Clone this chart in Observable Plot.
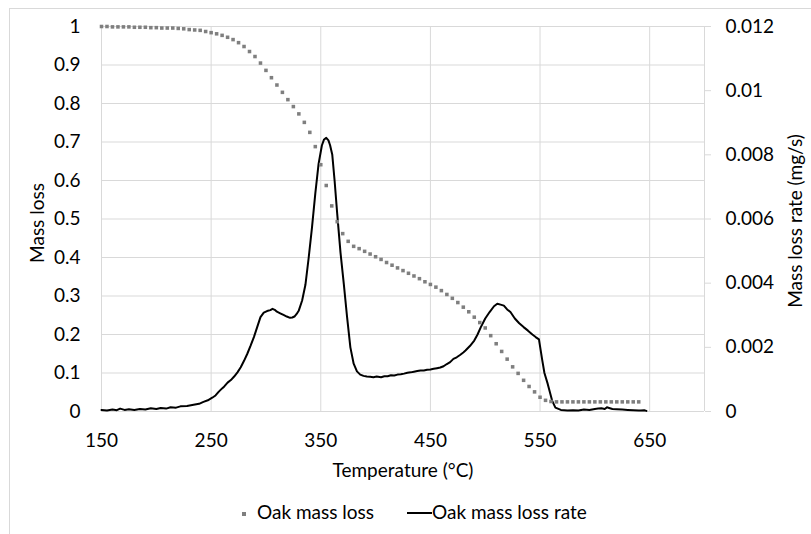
<!DOCTYPE html>
<html><head><meta charset="utf-8">
<script src="https://cdn.jsdelivr.net/npm/d3@7"></script>
<script src="https://cdn.jsdelivr.net/npm/@observablehq/plot@0.6"></script>
<style>
body{margin:0;background:#fff;font-family:Lato,"Open Sans",sans-serif;color:#000;}
#frame{position:absolute;left:9px;top:8px;width:900px;height:600px;border-top:1px solid #d9d9d9;border-left:1px solid #d9d9d9;}
#chart{position:absolute;left:0;top:0;}
.lg{position:absolute;top:502px;font-size:19px;line-height:20px;white-space:nowrap;}
</style></head>
<body>
<div id="frame"></div>
<div id="chart"></div>
<div class="lg" style="left:242px;top:512px;width:4px;height:4px;background:#7f7f7f;"></div>
<div class="lg" style="left:257px;">Oak mass loss</div>
<div class="lg" style="left:407px;top:512px;width:25px;height:2px;background:#000;"></div>
<div class="lg" style="left:432px;">Oak mass loss rate</div>
<script>
const massTemp = [150,155,160,165,170,175,180,185,190,195,200,205,210,215,220,225,230,235,240,245,250,255,260,265,270,275,280,285,290,295,300,305,310,315,320,325,330,335,340,345,350,355,360,365,370,375,380,385,390,395,400,405,410,415,420,425,430,435,440,445,450,455,460,465,470,475,480,485,490,495,500,505,510,515,520,525,530,535,540,545,550,555,560,565,570,575,580,585,590,595,600,605,610,615,620,625,630,635,640];
const massLoss = [1.000,1.000,0.999,0.999,0.999,0.999,0.998,0.998,0.998,0.997,0.997,0.996,0.996,0.996,0.995,0.994,0.992,0.991,0.990,0.987,0.984,0.981,0.977,0.972,0.966,0.958,0.948,0.935,0.922,0.905,0.886,0.867,0.848,0.829,0.810,0.792,0.773,0.751,0.725,0.688,0.641,0.587,0.534,0.493,0.462,0.442,0.429,0.423,0.416,0.409,0.402,0.395,0.387,0.380,0.373,0.366,0.359,0.352,0.345,0.337,0.330,0.323,0.314,0.304,0.294,0.283,0.271,0.259,0.245,0.231,0.217,0.197,0.176,0.156,0.136,0.116,0.099,0.081,0.065,0.051,0.037,0.029,0.026,0.025,0.025,0.025,0.025,0.025,0.025,0.025,0.025,0.025,0.025,0.025,0.025,0.025,0.025,0.025,0.025];

const rateTemp = [150,155,160,164,167,171,175,180,185,190,195,200,204,209,213,218,222,228,234,239,243,247,251,254,257,260,262,265,268,271,274,277,280,283,286,289,292,295,298,301,304,306,308,310,313,316,319,322,324,326,328,330,333,336,339,342,345,348,351,353,355,357,358.5,360.5,362.6,365,368,371,374,377,380,383,386,389,392,395,398,401,405,408,411,414,417,420,423,426,429,432,435,438,441,444,447,450,453,456,459,462,465,468,471,474,477,480,482,486,490,493,496,500,504,508,511,514,517,520,523,527,531,535,539,543,546,549,552,554,557,561,564,569,575,580,585,590,595,600,603,606,609,611,613,616,620,625,630,635,640,642,645,647];
const rateValue = [0.00005,0.00003,0.00006,0.00004,0.00009,0.00005,0.00007,0.00005,0.00008,0.00006,0.00010,0.00008,0.00011,0.00009,0.00013,0.00012,0.00016,0.00017,0.00021,0.00024,0.00030,0.00035,0.00043,0.00050,0.00062,0.00072,0.00078,0.00090,0.00098,0.00109,0.00122,0.00138,0.00158,0.00180,0.00205,0.00232,0.00263,0.00294,0.00308,0.00313,0.00316,0.00320,0.00317,0.00311,0.00306,0.00301,0.00296,0.00292,0.00293,0.00296,0.00304,0.00315,0.00346,0.00395,0.00480,0.00574,0.00679,0.00772,0.00829,0.00848,0.00853,0.00845,0.00830,0.00800,0.00720,0.00616,0.00495,0.00398,0.00294,0.00200,0.00149,0.00125,0.00115,0.00111,0.00109,0.00108,0.00107,0.00109,0.00107,0.00110,0.00110,0.00113,0.00112,0.00115,0.00116,0.00118,0.00121,0.00122,0.00124,0.00126,0.00128,0.00128,0.00130,0.00131,0.00133,0.00135,0.00137,0.00141,0.00148,0.00154,0.00164,0.00169,0.00176,0.00184,0.00190,0.00204,0.00221,0.00240,0.00263,0.00290,0.00310,0.00328,0.00336,0.00333,0.00330,0.00318,0.00310,0.00290,0.00275,0.00263,0.00252,0.00240,0.00232,0.00225,0.00160,0.00120,0.00086,0.00034,0.00012,0.00005,0.00003,0.00004,0.00003,0.00006,0.00005,0.00008,0.00009,0.00010,0.00008,0.00013,0.00011,0.00008,0.00007,0.00006,0.00005,0.00004,0.00003,0.00003,0.00004,0.00002];

const xTicks = [150,250,350,450,550,650];
const yTicks = [0,0.1,0.2,0.3,0.4,0.5,0.6,0.7,0.8,0.9,1];
const rateTicks = [0,0.002,0.004,0.006,0.008,0.01,0.012];
const rateMax = 0.012;

const mass = massTemp.map((t,i)=>({t, v:massLoss[i]}));
const rate = rateTemp.map((t,i)=>({t, r:rateValue[i]}));

const chart = Plot.plot({
  width: 811, height: 490,
  marginTop: 26, marginLeft: 101, marginRight: 107, marginBottom: 79,
  style: {fontFamily: "Lato, 'Open Sans', sans-serif", fontSize: "19px", color: "#000", background: "transparent", overflow: "visible"},
  x: {domain: [150, 700]},
  y: {domain: [0, 1]},
  marks: [
    Plot.gridY(yTicks, {stroke: "#d9d9d9", strokeOpacity: 1}),
    Plot.gridX(xTicks, {stroke: "#d9d9d9", strokeOpacity: 1}),
    Plot.ruleX([700], {stroke: "#d9d9d9"}),
    Plot.axisX(xTicks, {tickSize: 0, tickPadding: 22, label: null, fill: "#000"}),
    Plot.axisY(yTicks, {anchor: "left", tickSize: 0, tickPadding: 21, label: null, fill: "#000", tickFormat: d => String(d)}),
    Plot.axisY(rateTicks.map(r => r / rateMax), {anchor: "right", tickSize: 6, tickPadding: 15, label: null, stroke: "#d9d9d9", fill: "#000", tickFormat: d => String(+(d * rateMax).toFixed(3))}),
    Plot.line(rate, {x: "t", y: d => d.r / rateMax, stroke: "#000", strokeWidth: 2}),
    Plot.dot(mass, {x: "t", y: "v", symbol: "square", r: 2, fill: "#7f7f7f", stroke: "none"}),
    Plot.text(["Mass loss"], {frameAnchor: "left", dx: -64, dy: 4, rotate: -90, textAnchor: "middle", fill: "#000"}),
    Plot.text(["Mass loss rate (mg/s)"], {frameAnchor: "right", dx: 91, dy: 2, rotate: -90, textAnchor: "middle", fill: "#000"}),
    Plot.text(["Temperature (°C)"], {frameAnchor: "bottom", dy: 65, textAnchor: "middle", fill: "#000"})
  ]
});
document.getElementById("chart").appendChild(chart);
</script>
</body></html>
